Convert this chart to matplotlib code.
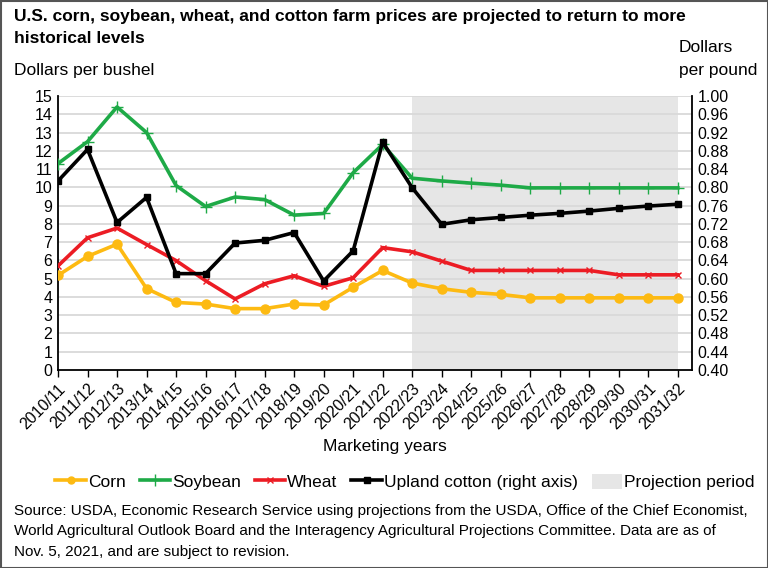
import matplotlib
matplotlib.use("Agg")
import matplotlib.pyplot as plt
from matplotlib.patches import Patch, Rectangle
from matplotlib.lines import Line2D

years = ["2010/11", "2011/12", "2012/13", "2013/14", "2014/15", "2015/16", "2016/17",
         "2017/18", "2018/19", "2019/20", "2020/21", "2021/22", "2022/23", "2023/24",
         "2024/25", "2025/26", "2026/27", "2027/28", "2028/29", "2029/30", "2030/31", "2031/32"]
corn = [5.18, 6.22, 6.89, 4.46, 3.70, 3.61, 3.36, 3.36, 3.61, 3.56, 4.53, 5.45,
        4.76, 4.45, 4.25, 4.14, 3.95, 3.95, 3.95, 3.95, 3.95, 3.95]
soybean = [11.30, 12.50, 14.40, 13.00, 10.10, 8.95, 9.47, 9.33, 8.48, 8.57, 10.80, 12.35,
           10.50, 10.35, 10.23, 10.12, 9.97, 9.97, 9.97, 9.97, 9.97, 9.97]
wheat = [5.70, 7.24, 7.77, 6.87, 5.99, 4.89, 3.89, 4.72, 5.16, 4.58, 5.05, 6.70,
         6.47, 5.96, 5.45, 5.45, 5.45, 5.45, 5.45, 5.21, 5.21, 5.21]
cotton = [0.814, 0.883, 0.723, 0.778, 0.611, 0.611, 0.678, 0.684, 0.701, 0.595, 0.661, 0.899,
          0.799, 0.719, 0.729, 0.734, 0.739, 0.743, 0.748, 0.754, 0.759, 0.763]
proj_start, proj_end = "2022/23", "2031/32"
left_ticks = list(range(0, 16))
right_ticks = [0.40, 0.44, 0.48, 0.52, 0.56, 0.60, 0.64, 0.68, 0.72, 0.76, 0.80, 0.84,
               0.88, 0.92, 0.96, 1.00]

C_CORN = "#FDBA12"
C_SOY = "#1EAA47"
C_WHEAT = "#EC1C24"
C_COT = "#000000"
C_SHADE = "#E6E6E6"

FONT = ["Liberation Sans", "DejaVu Sans"]
plt.rcParams['font.family'] = FONT

fig = plt.figure(figsize=(7.68, 5.68), dpi=100)
ax = fig.add_axes([58/768, 1-370/568, (692-58)/768, (370-96)/568])
ax2 = ax.twinx()

x = list(range(len(years)))
i0, i1 = years.index(proj_start), years.index(proj_end)
ax.axvspan(i0, i1, color=C_SHADE, zorder=0, lw=0)

for v in left_ticks[1:]:
    ax.axhline(v, color="#D9D9D9", lw=1.3, zorder=1)

lw = 2.6
ax.plot(x, corn, color=C_CORN, lw=lw, marker="o", ms=6.5, zorder=3)
ax.plot(x, soybean, color=C_SOY, lw=lw, marker="+", ms=9, mew=1.0, zorder=3)
ax.plot(x, wheat, color=C_WHEAT, lw=lw, marker="x", ms=4, mew=1.0, zorder=3)
ax2.plot(x, cotton, color=C_COT, lw=lw, marker="s", ms=5, zorder=4)

ax.set_xlim(0, 21.48)
ax.set_ylim(0, 15)
ax2.set_ylim(0.40, 1.00)
ax.set_yticks(left_ticks)
ax.set_yticklabels([str(v) for v in left_ticks], fontsize=11.5)
ax2.set_yticks(right_ticks)
ax2.set_yticklabels([f"{v:.2f}" for v in right_ticks], fontsize=11.5)
ax.set_xticks(x)
ax.set_xticklabels(years, rotation=45, ha="right", rotation_mode="anchor", fontsize=11.5)
ax.tick_params(axis="x", length=5, width=1, pad=3)
ax.tick_params(axis="y", length=0, pad=4)
ax2.tick_params(axis="y", length=0, pad=4)

for a in (ax, ax2):
    a.spines["top"].set_visible(False)
    for s in ("left", "right", "bottom"):
        a.spines[s].set_linewidth(1.3)
        a.spines[s].set_color("black")
ax.spines["right"].set_visible(False)
ax2.spines["left"].set_visible(False)
ax2.spines["bottom"].set_visible(False)

fig.text(14/768, 1-9/568, "U.S. corn, soybean, wheat, and cotton farm prices are projected to return to more\nhistorical levels",
         fontsize=12.5, fontweight="bold", va="top", ha="left", linespacing=1.55)
fig.text(14/768, 1-71/568, "Dollars per bushel", fontsize=12.5, va="center", ha="left")
fig.text(679/768, 1-47/568, "Dollars", fontsize=12.5, va="center", ha="left")
fig.text(679/768, 1-71/568, "per pound", fontsize=12.5, va="center", ha="left")
fig.text(385/768, 1-447/568, "Marketing years", fontsize=12.5, ha="center", va="center")

handles = [
    Line2D([], [], color=C_CORN, lw=lw, marker="o", ms=5),
    Line2D([], [], color=C_SOY, lw=lw, marker="+", ms=9, mew=1.0),
    Line2D([], [], color=C_WHEAT, lw=lw, marker="x", ms=4, mew=1.0),
    Line2D([], [], color=C_COT, lw=lw, marker="s", ms=4),
    Patch(facecolor=C_SHADE, edgecolor="none"),
]
labels = ["Corn", "Soybean", "Wheat", "Upland cotton (right axis)", "Projection period"]
fig.legend(handles, labels, loc="center", bbox_to_anchor=(405/768, 1-482/568), ncol=5, frameon=False,
           prop={"size": 12.5}, handlelength=1.75, handleheight=1.0, handletextpad=0.12,
           columnspacing=0.8, borderaxespad=0)

fig.text(14/768, 1-504/568,
         "Source: USDA, Economic Research Service using projections from the USDA, Office of the Chief Economist,\n"
         "World Agricultural Outlook Board and the Interagency Agricultural Projections Committee. Data are as of\n"
         "Nov. 5, 2021, and are subject to revision.",
         fontsize=11, va="top", ha="left", linespacing=1.58)

fig.patches.append(Rectangle((0.5/768, 0.5/568), 1-1/768, 1-1/568, transform=fig.transFigure,
                             fill=False, edgecolor="#555555", lw=1.5))

fig.savefig("out.png", dpi=100)
